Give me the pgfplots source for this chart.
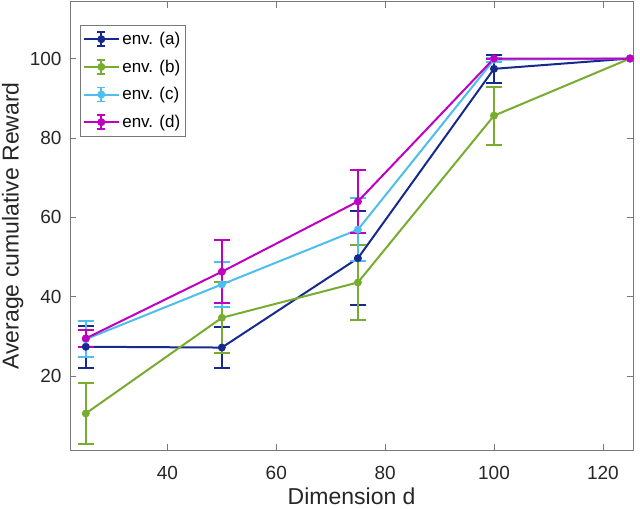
\documentclass[border=0pt]{standalone}
\usepackage{pgfplots}
\pgfplotsset{compat=1.18}
\usepackage{fontspec}
\setmainfont{Liberation Sans}
\definecolor{ca}{RGB}{22,42,142}
\definecolor{cb}{RGB}{119,172,48}
\definecolor{cc}{RGB}{77,190,238}
\definecolor{cd}{RGB}{192,0,192}
\definecolor{axgray}{RGB}{120,120,120}
\definecolor{txt}{RGB}{38,38,38}
\begin{document}
\begin{tikzpicture}
\begin{axis}[
  name=ax,
  scale only axis,
  width=422.5pt, height=336.2pt,
  xmin=22.1, xmax=125.6,
  ymin=1.4, ymax=114.3,
  xtick={40,60,80,100,120},
  ytick={20,40,60,80,100},
  tick align=inside,
  major tick length=4.5pt,
  axis line style={axgray, line width=0.5pt},
  tick style={axgray, line width=0.5pt},
  /pgf/number format/assume math mode=true,
  ticklabel style={font=\fontsize{14.25}{16}\selectfont, text=txt},
  yticklabel style={inner sep=0pt, xshift=-6.2pt},
  xticklabel style={inner sep=0pt, anchor=north, yshift=-11.8pt},
  xlabel={Dimension d},
  ylabel={Average cumulative Reward},
  label style={font=\fontsize{17.25}{20}\selectfont, text=txt},
  xlabel style={at={(rel axis cs:0.5,-0.1227)}, anchor=base, inner sep=0pt},
  ylabel style={at={(rel axis cs:-0.1212,0.5)}, anchor=north, inner sep=0pt},
  legend style={at={(rel axis cs:0,1)}, anchor=north west, xshift=7.5pt, yshift=-17.5pt,
    font=\fontsize{12.75}{15}\selectfont, draw=axgray, line width=0.5pt, fill=white,
    inner xsep=2pt, inner ysep=3pt, row sep=6pt, text=black},
  legend cell align=left,
  legend image code/.code={
    \draw[line width=1.5pt] (-1pt,0pt) -- (25pt,0pt);
    \draw[line width=1.5pt] (12pt,-5.2pt) -- (12pt,5.2pt);
    \draw[line width=1.2pt] (9pt,-5.2pt) -- (15pt,-5.2pt);
    \draw[line width=1.2pt] (9pt,5.2pt) -- (15pt,5.2pt);
    \fill (12pt,0pt) circle (2.2pt);
  },
  every axis plot/.append style={line width=1.5pt, mark=*, mark size=2.2pt, mark options={solid}},
  error bars/y dir=both,
  error bars/y explicit,
  error bars/error bar style={line width=1.5pt},
  error bars/error mark options={rotate=90, line width=1.5pt, mark size=6.2pt},
]
\addplot[color=ca] coordinates {
 (25,27.4) +- (0,5.3)
 (50,27.2) +- (0,5.2)
 (75,49.7) +- (0,11.8)
 (100,97.4) +- (0,3.6)
 (125,100) +- (0,0)
};
\addlegendentry{env. (a)}
\addplot[color=cb] coordinates {
 (25,10.6) +- (0,7.6)
 (50,34.7) +- (0,8.9)
 (75,43.6) +- (0,9.5)
 (100,85.6) +- (0,7.3)
 (125,100) +- (0,0)
};
\addlegendentry{env. (b)}
\addplot[color=cc] coordinates {
 (25,29.3) +- (0,4.6)
 (50,43.1) +- (0,5.6)
 (75,56.9) +- (0,7.9)
 (100,99.7) +- (0,0.5)
 (125,100) +- (0,0)
};
\addlegendentry{env. (c)}
\addplot[color=cd] coordinates {
 (25,29.5) +- (0,2.2)
 (50,46.3) +- (0,8.0)
 (75,64.0) +- (0,8.0)
 (100,100) +- (0,0)
 (125,100) +- (0,0)
};
\addlegendentry{env. (d)}
\end{axis}
\pgfresetboundingbox
\path ([xshift=-52.5pt, yshift=-44.25pt]ax.south west) rectangle ([xshift=5pt, yshift=1.3pt]ax.north east);
\end{tikzpicture}
\end{document}
